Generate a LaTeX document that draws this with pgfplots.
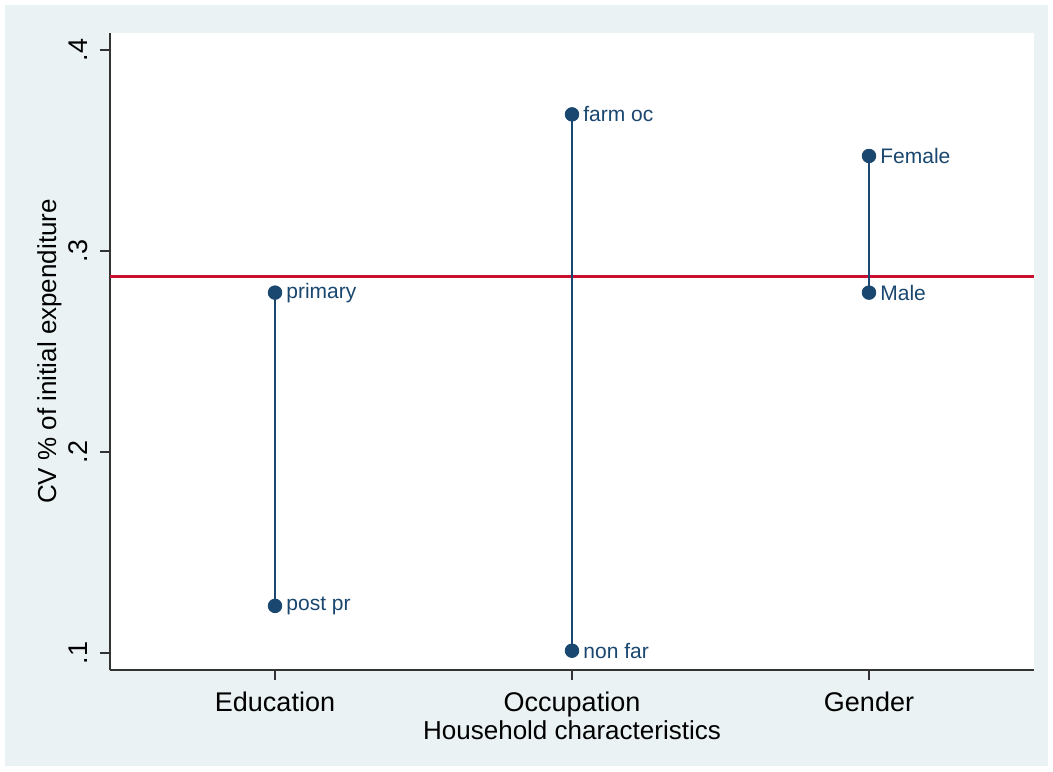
\documentclass[border=0pt]{standalone}
\usepackage{fontspec}
\setmainfont{Liberation Sans}
\usepackage{pgfplots}
\pgfplotsset{compat=1.18}
\usetikzlibrary{backgrounds}
\definecolor{stnavy}{HTML}{1A476F}
\definecolor{stred}{HTML}{C8102E}
\definecolor{stbg}{HTML}{EAF2F3}
\definecolor{staxis}{HTML}{333333}

\begin{document}
\begin{tikzpicture}
\begin{axis}[
  at={(0,0)}, anchor=south west,
  scale only axis,
  width=462pt, height=318.5pt,
  xmin=0.4444, xmax=3.5556,
  ymin=0.0915, ymax=0.4085,
  axis x line*=bottom, axis y line*=left,
  axis line style={staxis, line width=0.6pt},
  axis background/.style={fill=white},
  tick align=outside, major tick length=5pt,
  tick style={staxis, line width=0.6pt},
  xtick={1,2,3},
  xticklabels={Education,Occupation,Gender},
  ytick={0.1,0.2,0.3,0.4},
  yticklabels={.1,.2,.3,.4},
  ticklabel style={font=\fontsize{13.5}{15}\selectfont},
  yticklabel style={rotate=90, anchor=south, inner sep=0pt, yshift=6pt},
  xticklabel style={inner sep=0pt, yshift=-6pt},
  xlabel={Household characteristics},
  ylabel={CV \% of initial expenditure},
  label style={font=\fontsize{13}{15}\selectfont},
  xlabel style={yshift=2pt},
  ylabel style={yshift=0pt},
  clip=false,
]
% average line
\addplot[stred, line width=1.3pt, no marks] coordinates {(0.4444,0.2872) (3.5556,0.2872)};

% ranges by group
\addplot[stnavy, line width=1.4pt, no marks] coordinates {(1,0.2793) (1,0.1234)};
\addplot[stnavy, line width=1.4pt, no marks] coordinates {(2,0.3680) (2,0.1011)};
\addplot[stnavy, line width=1.4pt, no marks] coordinates {(3,0.3473) (3,0.2793)};

\addplot[only marks, mark=*, mark size=3.4pt, color=stnavy,
  nodes near coords, point meta=explicit symbolic,
  every node near coord/.style={anchor=west, xshift=4.5pt, yshift=0pt,
    font=\fontsize{10.5}{12}\selectfont, text=stnavy, inner sep=1pt}]
  table[meta=lab] {
  x y lab
  1 0.2793 primary
  1 0.1234 {post pr}
  2 0.3680 {farm oc}
  2 0.1011 {non far}
  3 0.3473 Female
  3 0.2793 Male
  };
\end{axis}
\begin{scope}[on background layer]
  \fill[white] (-55pt,-50.5pt) rectangle (471.5pt,335pt);
  \fill[stbg] (-52.5pt,-48pt) rectangle (469pt,332.5pt);
\end{scope}
\end{tikzpicture}
\end{document}
